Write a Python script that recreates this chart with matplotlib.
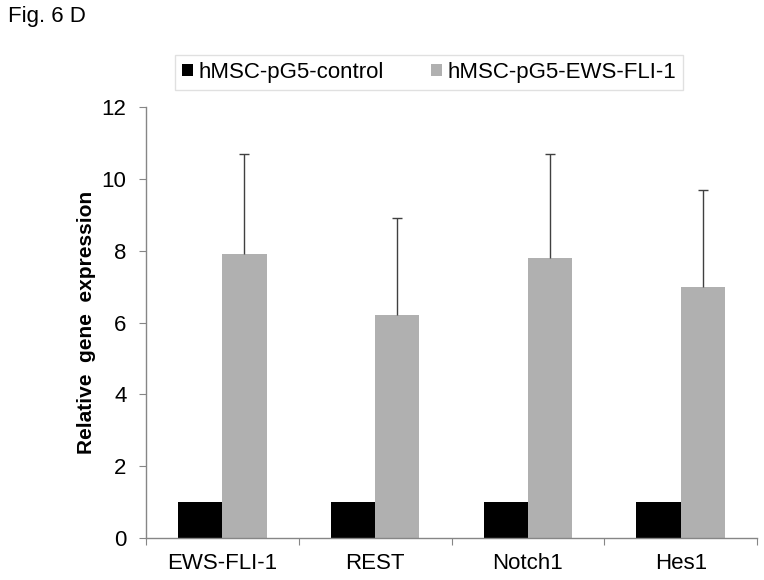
import numpy as np
import matplotlib
matplotlib.use("Agg")
import matplotlib.pyplot as plt
from matplotlib.patches import Patch

plt.rcParams['font.family'] = ['Liberation Sans', 'DejaVu Sans']

# data
genes = ['EWS-FLI-1', 'REST', 'Notch1', 'Hes1']
control = [1.0, 1.0, 1.0, 1.0]
ews_fli1 = [7.9, 6.2, 7.8, 7.0]
ews_fli1_err = [2.8, 2.7, 2.9, 2.7]
series_names = ['hMSC-pG5-control', 'hMSC-pG5-EWS-FLI-1']

fig = plt.figure(figsize=(7.64, 5.8), dpi=100)
ax = fig.add_axes([0.191, 0.0724, 0.8, 0.7431])

x = np.arange(len(genes))
w = 0.29
ax.bar(x - w / 2, control, width=w, color='black', zorder=2)
ax.bar(x + w / 2, ews_fli1, width=w, color='#b0b0b0', zorder=2)

eb = ax.errorbar(x + w / 2, ews_fli1, yerr=[np.zeros(len(genes)), ews_fli1_err],
                 fmt='none', ecolor='#404040', elinewidth=1, capsize=3.5, capthick=1, zorder=3)
eb[1][0].set_visible(False)

ax.set_xlim(-0.5, len(genes) - 0.5)
ax.set_ylim(0, 12)
ax.set_yticks(range(0, 13, 2))
ax.set_xticks(np.arange(-0.5, len(genes), 1.0))
ax.set_xticklabels([])
ax.set_xticks(x, minor=True)
ax.set_xticklabels(genes, minor=True)
ax.tick_params(axis='x', which='minor', length=0, labelsize=16, pad=11)
ax.tick_params(axis='x', which='major', length=5, color='#868686', direction='out')
ax.tick_params(axis='y', length=5, color='#868686', direction='out', labelsize=16, pad=9)

for s in ['top', 'right']:
    ax.spines[s].set_visible(False)
for s in ['left', 'bottom']:
    ax.spines[s].set_color('#868686')
    ax.spines[s].set_linewidth(1)

ax.set_ylabel('Relative  gene  expression', fontsize=15, fontweight='bold', labelpad=4)

handles = [Patch(facecolor='black'), Patch(facecolor='#b0b0b0')]
leg = fig.legend(handles, series_names, loc='center', bbox_to_anchor=(0.5615, 0.875),
                 ncol=2, fontsize=16, frameon=True, fancybox=False, edgecolor='#d9d9d9',
                 handlelength=0.5, handleheight=0.5, handletextpad=0.25,
                 columnspacing=2.1, borderpad=0.3, borderaxespad=0)
leg.get_frame().set_linewidth(1)

fig.text(0.01, 0.99, 'Fig. 6 D', fontsize=16, va='top', ha='left')

fig.savefig('out.png', dpi=100)
